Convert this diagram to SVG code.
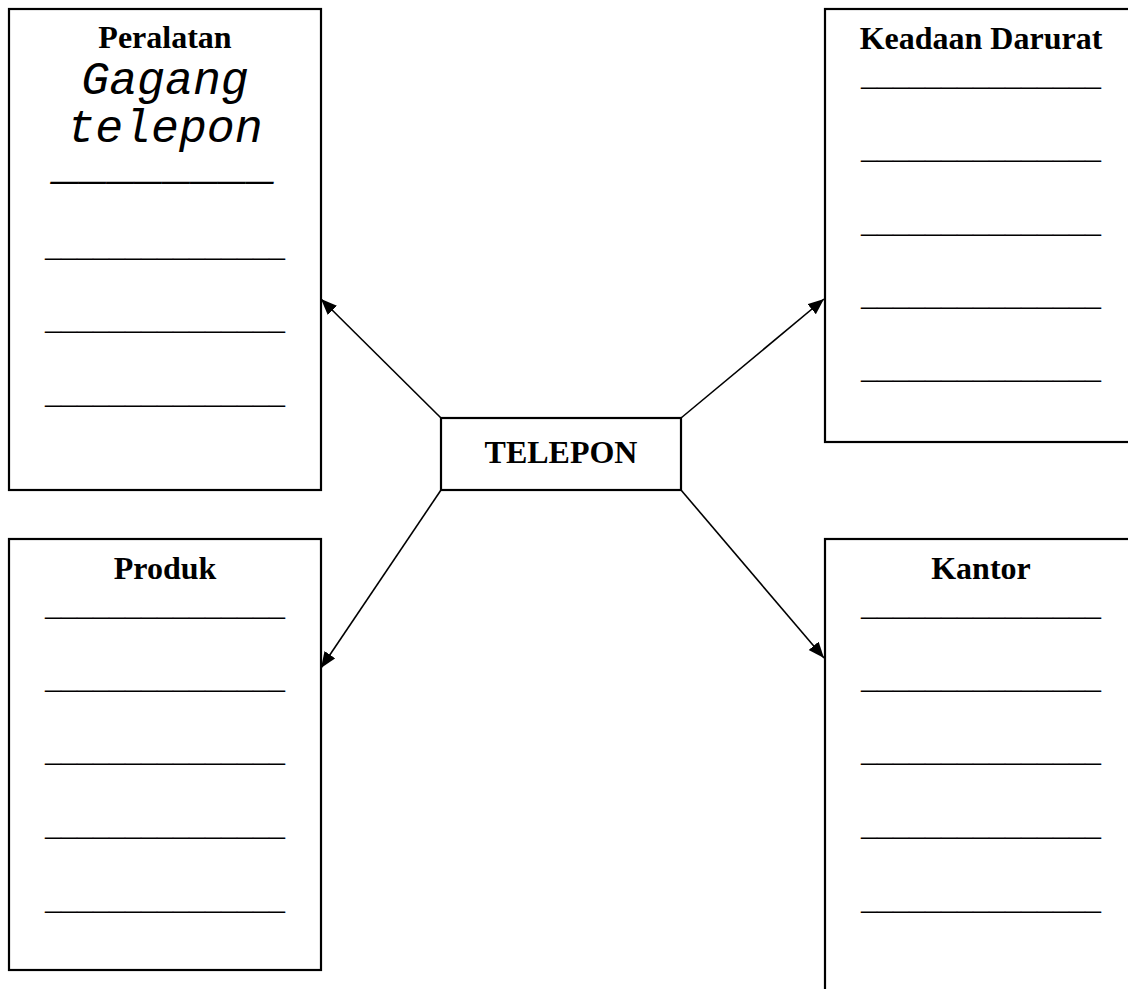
<svg xmlns="http://www.w3.org/2000/svg" width="1128" height="989" viewBox="0 0 1128 989">
<style>
.box{fill:#fff;stroke:#000;stroke-width:2.2}
.h{font-family:"Liberation Serif","Times New Roman",serif;font-weight:bold;font-size:32px;text-anchor:middle;fill:#000}
.u{font-family:"Liberation Serif","Times New Roman",serif;font-size:32px;text-anchor:middle;fill:#000}
.m{font-family:"Liberation Mono","Courier New",monospace;font-style:italic;font-size:46.5px;text-anchor:middle;fill:#000}
.c{stroke:#000;stroke-width:1.6;fill:none;marker-end:url(#ah)}
</style>
<defs>
<marker id="ah" markerUnits="userSpaceOnUse" markerWidth="18" markerHeight="14" refX="16" refY="6.5" orient="auto">
<path d="M0,0 L16,6.5 L0,13 z" fill="#000"/>
</marker>
</defs>
<rect width="1128" height="989" fill="#fff"/>
<g id="connectors">
<line class="c" x1="441" y1="418" x2="321" y2="299"/>
<line class="c" x1="681" y1="418" x2="824" y2="299"/>
<line class="c" x1="441" y1="490" x2="321" y2="668"/>
<line class="c" x1="681" y1="490" x2="824" y2="658"/>
</g>
<g id="peralatan">
<rect class="box" x="9" y="9" width="312" height="481"/>
<text class="h" x="165" y="48">Peralatan</text>
<text class="m" x="165" y="94">Gagang</text>
<text class="m" x="165" y="142">telepon</text>
<text class="m" x="165" y="179">________</text>
<text class="u" x="165" y="256">_______________</text>
<text class="u" x="165" y="329">_______________</text>
<text class="u" x="165" y="403">_______________</text>
</g>
<g id="keadaan-darurat">
<rect class="box" x="825" y="9" width="400" height="433"/>
<text class="h" x="981" y="49">Keadaan Darurat</text>
<text class="u" x="981" y="85">_______________</text>
<text class="u" x="981" y="158">_______________</text>
<text class="u" x="981" y="232">_______________</text>
<text class="u" x="981" y="305">_______________</text>
<text class="u" x="981" y="378">_______________</text>
</g>
<g id="telepon">
<rect class="box" x="441" y="418" width="240" height="72"/>
<text class="h" x="561" y="463">TELEPON</text>
</g>
<g id="produk">
<rect class="box" x="9" y="539" width="312" height="431"/>
<text class="h" x="165" y="579">Produk</text>
<text class="u" x="165" y="615">_______________</text>
<text class="u" x="165" y="688">_______________</text>
<text class="u" x="165" y="761">_______________</text>
<text class="u" x="165" y="835">_______________</text>
<text class="u" x="165" y="909">_______________</text>
</g>
<g id="kantor">
<rect class="box" x="825" y="539" width="400" height="500"/>
<text class="h" x="981" y="579">Kantor</text>
<text class="u" x="981" y="615">_______________</text>
<text class="u" x="981" y="688">_______________</text>
<text class="u" x="981" y="761">_______________</text>
<text class="u" x="981" y="835">_______________</text>
<text class="u" x="981" y="909">_______________</text>
</g>
</svg>
